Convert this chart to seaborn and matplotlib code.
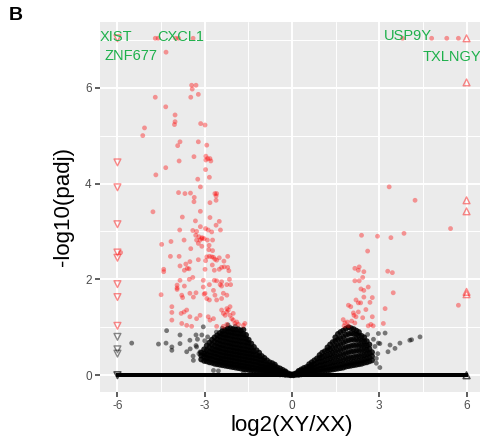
import numpy as np
import pandas as pd
import matplotlib
matplotlib.use("Agg")
import matplotlib.pyplot as plt
import seaborn as sns

# ---------------- data ----------------
# significant genes, left side (log2FC, -log10 padj)
red_left_x = [-4.7, -4.6, -4.0, -3.9, -3.4, -4.33, -3.45, -3.3, -3.43, -3.22, -4.7, -3.48, -4.34, -4.02,
              -4.02, -4.04, -3.14, -2.99, -5.07, -5.13, -3.85, -3.93, -3.22, -2.93, -3.37, -2.96, -2.9,
              -2.96, -2.82, -3.88, -2.79, -4.34, -4.68, -2.97, -3.24, -2.84, -3.15, -3.9, -3.68, -3.49,
              -3.36, -3.37, -2.65, -2.59, -2.61, -2.61, -2.82, -4.78, -3.15, -3.77, -2.82, -3.32, -2.5,
              -2.61, -3.15, -3.86, -3.41, -3.28, -2.97, -2.88, -2.76, -2.46, -3.31, -3.2, -3.09, -3.1,
              -3.02, -3.16, -3.28, -2.91, -2.73, -3.71, -4.16, -3.22, -4.48, -2.85, -3.1, -2.86, -3.48,
              -2.73, -5.89, -4.18, -3.88, -2.93, -2.84, -2.76, -2.7, -2.65, -2.59, -2.5, -2.34, -2.21,
              -2.97, -3.22, -3.65, -3.51, -2.74, -3.85, -4.41, -4.41, -3.7, -3.6, -3.54, -2.99, -2.67,
              -2.5, -2.42, -2.33, -2.21, -2.17, -3.41, -3.53, -3.85, -3.05, -2.67, -2.59, -2.42, -2.15,
              -3.95, -3.95, -3.95, -3.7, -2.84, -2.47, -2.42, -2.24, -2.11, -4.5, -3.79, -3.76, -3.02,
              -3.51, -3.39, -3.3, -3.05, -2.99, -2.93, -2.84, -2.7, -2.65, -2.59, -2.42, -2.36, -2.24,
              -4.13, -4.13, -4.13, -3.81, -3.71, -3.62, -3.79, -3.51, -3.28, -3.16, -3.62, -3.45, -2.88,
              -2.82, -2.7, -2.59, -2.36, -2.24, -2.42, -2.36, -2.3, -2.24, -2.19, -2.13, -2.07, -2.02,
              -1.96, -1.9, -1.84, -2.02, -2.13, -2.24, -1.67, -1.62]
red_left_y = [7.03, 7.03, 7.03, 7.03, 7.03, 6.74, 6.05, 6.05, 5.97, 5.86, 5.8, 5.8, 5.6, 5.43,
              5.29, 5.23, 5.25, 5.22, 5.16, 5.0, 4.87, 4.79, 4.87, 4.8, 4.56, 4.57, 4.52,
              4.49, 4.52, 4.47, 4.47, 4.33, 4.18, 4.29, 4.09, 4.13, 3.93, 3.81, 3.79, 3.8,
              3.71, 3.62, 3.79, 3.79, 3.74, 3.65, 3.6, 3.41, 3.42, 3.3, 3.29, 3.22, 3.21,
              3.13, 3.1, 3.03, 3.02, 3.0, 3.06, 3.03, 2.99, 3.03, 2.92, 2.89, 2.87, 2.85,
              2.85, 2.82, 2.82, 2.82, 2.82, 2.82, 2.79, 2.75, 2.73, 2.71, 2.69, 2.62, 2.64,
              2.6, 2.56, 2.48, 2.48, 2.47, 2.48, 2.47, 2.46, 2.42, 2.4, 2.45, 2.38, 2.48,
              2.39, 2.41, 2.32, 2.37, 2.3, 2.28, 2.21, 2.16, 2.19, 2.23, 2.22, 2.21, 2.19,
              2.21, 2.25, 2.26, 2.25, 2.18, 2.04, 2.0, 1.98, 1.98, 1.98, 1.97, 1.95, 2.0,
              1.88, 1.82, 1.79, 1.86, 1.89, 1.89, 1.86, 1.89, 1.89, 1.68, 1.67, 1.62, 1.69,
              1.71, 1.63, 1.72, 1.84, 1.71, 1.6, 1.57, 1.77, 1.67, 1.57, 1.6, 1.71, 1.67,
              1.43, 1.31, 1.15, 1.29, 1.32, 1.36, 1.08, 1.22, 1.18, 1.25, 1.04, 1.02, 1.22,
              1.15, 1.18, 1.02, 1.02, 1.06, 1.36, 1.29, 1.25, 1.32, 1.36, 1.25, 1.18, 1.15,
              1.08, 1.11, 1.06, 1.29, 1.43, 1.39, 1.04, 1.08]

# significant genes, right side
red_right_x = [3.8, 4.8, 5.32, 5.72, 3.34, 4.23, 5.45, 2.39, 2.94, 3.4, 3.85, 2.6, 2.16, 2.31, 2.28,
               2.47, 3.29, 3.45, 2.16, 2.31, 2.43, 2.37, 2.47, 2.62, 3.48, 5.72, 2.2, 2.28, 2.47,
               2.76, 1.94, 2.02, 2.36, 2.54, 2.68, 3.2, 2.11, 2.13, 2.28, 2.2, 1.76, 1.82, 1.9,
               1.94, 1.79, 2.05, 2.16, 2.43, 2.76, 2.62, 2.71, 2.79, 3.14]
red_right_y = [7.03, 7.03, 7.03, 7.03, 3.93, 3.65, 3.06, 2.92, 2.9, 2.87, 2.96, 2.59, 2.23, 2.26, 2.19,
               2.16, 2.17, 2.14, 1.97, 1.97, 2.04, 1.8, 1.77, 1.84, 1.72, 1.46, 1.57, 1.51, 1.63,
               1.62, 1.46, 1.43, 1.51, 1.37, 1.52, 1.39, 1.3, 1.25, 1.32, 1.22, 1.16, 1.09, 1.11,
               1.03, 1.03, 1.13, 1.09, 1.2, 1.22, 1.03, 1.06, 1.03, 1.08]

# values beyond the axis limit (drawn as triangles at +-6)
red_tri_left_y = [7.03, 4.44, 3.92, 3.15, 2.56, 2.45, 1.9, 1.63, 1.03]
black_tri_left_y = [0.8, 0.54, 0.45, 0.0, 0.0]
red_tri_right_y = [7.03, 6.11, 3.65, 3.42, 1.74, 1.69]
black_tri_right_y = [0.0, 0.0]

# non-significant genes: scattered ones
black_x = [-5.51, -4.59, -4.33, -4.31, -4.13, -4.13, -3.85, -3.85, -3.62, -3.51, -3.3, -3.39,
           -3.1, -3.05, -3.28, -3.16, -2.99, -2.7, -2.53, -1.67, -3.4, -3.2, -3.25, -3.0, -2.9,
           -2.6, -2.4, -2.2, -1.95, -3.5, -3.3,
           2.9, 2.95, 2.85, 3.02, 3.2, 3.3, 3.37, 3.54, 3.71, 4.05, 4.11, 4.4, 3.02, 2.8, 2.6,
           2.97, 2.97, 2.9]
black_y = [0.67, 0.65, 0.67, 0.93, 0.59, 0.52, 0.84, 0.66, 0.49, 0.73, 0.84, 0.31,
           0.84, 1.01, 0.59, 0.49, 0.42, 0.1, 0.09, 0.05, 0.4, 0.45, 0.75, 0.72, 0.8,
           0.9, 0.98, 1.05, 1.02, 0.55, 0.62,
           0.35, 0.45, 0.6, 0.66, 0.88, 0.49, 0.63, 0.56, 0.67, 0.73, 0.74, 0.8, 0.16, 0.75, 0.85,
           0.87, 0.67, 0.25]

# non-significant genes: dense cloud, listed column by column (log2FC, [-log10 padj ...])
cloud_left = [
    (-3.12, [0.33, 0.41, 0.47]),
    (-3.02, [0.30, 0.38, 0.45, 0.54]),
    (-2.93, [0.29, 0.36, 0.44, 0.52, 0.62]),
    (-2.84, [0.27, 0.35, 0.41, 0.49, 0.58, 0.68]),
    (-2.75, [0.26, 0.33, 0.40, 0.48, 0.55, 0.64, 0.74]),
    (-2.66, [0.24, 0.31, 0.39, 0.46, 0.53, 0.61, 0.70, 0.79]),
    (-2.57, [0.23, 0.30, 0.37, 0.44, 0.52, 0.59, 0.67, 0.75, 0.83]),
    (-2.48, [0.22, 0.29, 0.35, 0.43, 0.50, 0.57, 0.65, 0.73, 0.81, 0.88]),
    (-2.39, [0.21, 0.27, 0.34, 0.41, 0.48, 0.56, 0.63, 0.71, 0.79, 0.86, 0.92]),
    (-2.30, [0.20, 0.26, 0.33, 0.40, 0.47, 0.54, 0.62, 0.70, 0.78, 0.85, 0.94]),
    (-2.21, [0.19, 0.25, 0.32, 0.39, 0.46, 0.53, 0.61, 0.69, 0.77, 0.84, 0.91, 0.97]),
    (-2.12, [0.18, 0.24, 0.31, 0.38, 0.45, 0.52, 0.60, 0.67, 0.75, 0.83, 0.90, 0.98]),
    (-2.03, [0.17, 0.23, 0.30, 0.37, 0.44, 0.51, 0.58, 0.66, 0.74, 0.82, 0.89, 0.96]),
    (-1.94, [0.16, 0.22, 0.29, 0.36, 0.43, 0.50, 0.57, 0.65, 0.73, 0.81, 0.88, 0.95]),
    (-1.85, [0.15, 0.21, 0.28, 0.35, 0.42, 0.49, 0.56, 0.64, 0.72, 0.80, 0.87, 0.96]),
    (-1.76, [0.14, 0.20, 0.27, 0.34, 0.41, 0.48, 0.55, 0.63, 0.71, 0.79, 0.87, 0.93]),
    (-1.67, [0.13, 0.19, 0.26, 0.33, 0.40, 0.47, 0.54, 0.62, 0.70, 0.78, 0.86, 0.95]),
    (-1.58, [0.12, 0.18, 0.25, 0.32, 0.39, 0.46, 0.53, 0.61, 0.69, 0.77, 0.84]),
    (-1.49, [0.11, 0.17, 0.24, 0.31, 0.38, 0.45, 0.52, 0.60, 0.68, 0.74]),
    (-1.40, [0.10, 0.16, 0.23, 0.30, 0.37, 0.44, 0.51, 0.58, 0.66]),
    (-1.31, [0.09, 0.15, 0.22, 0.29, 0.36, 0.43, 0.50, 0.59]),
    (-1.22, [0.08, 0.14, 0.21, 0.28, 0.35, 0.42, 0.52]),
    (-1.13, [0.07, 0.13, 0.19, 0.26, 0.33, 0.40, 0.47]),
    (-1.04, [0.06, 0.12, 0.18, 0.25, 0.32, 0.40]),
    (-0.95, [0.06, 0.11, 0.17, 0.23, 0.30, 0.36]),
    (-0.86, [0.05, 0.10, 0.16, 0.22, 0.31]),
    (-0.77, [0.05, 0.09, 0.15, 0.21, 0.27]),
    (-0.68, [0.04, 0.08, 0.13, 0.19, 0.25]),
    (-0.59, [0.03, 0.07, 0.12, 0.18, 0.22]),
    (-0.50, [0.03, 0.06, 0.11, 0.16]),
    (-0.41, [0.02, 0.05, 0.09, 0.14]),
    (-0.32, [0.02, 0.04, 0.07, 0.11]),
    (-0.23, [0.01, 0.03, 0.06, 0.08]),
    (-0.14, [0.01, 0.02, 0.04]),
    (-0.05, [0.00, 0.01, 0.02]),
]
cloud_right = [
    (0.05, [0.00, 0.01, 0.02]),
    (0.14, [0.01, 0.03, 0.04]),
    (0.23, [0.01, 0.04, 0.07, 0.09]),
    (0.32, [0.02, 0.05, 0.09, 0.12]),
    (0.41, [0.03, 0.06, 0.10, 0.15]),
    (0.50, [0.03, 0.07, 0.12, 0.17]),
    (0.59, [0.04, 0.08, 0.13, 0.18, 0.23]),
    (0.68, [0.05, 0.09, 0.15, 0.21, 0.27]),
    (0.77, [0.05, 0.10, 0.16, 0.23, 0.31]),
    (0.86, [0.06, 0.11, 0.18, 0.26, 0.35]),
    (0.95, [0.07, 0.13, 0.20, 0.28, 0.36, 0.42]),
    (1.04, [0.08, 0.14, 0.21, 0.29, 0.38, 0.47]),
    (1.13, [0.09, 0.15, 0.23, 0.31, 0.40, 0.50]),
    (1.22, [0.10, 0.16, 0.24, 0.33, 0.42, 0.52, 0.58]),
    (1.31, [0.11, 0.17, 0.26, 0.35, 0.44, 0.54, 0.64]),
    (1.40, [0.12, 0.19, 0.27, 0.37, 0.47, 0.57, 0.69]),
    (1.49, [0.13, 0.20, 0.29, 0.39, 0.49, 0.60, 0.71, 0.79]),
    (1.58, [0.14, 0.21, 0.30, 0.40, 0.51, 0.62, 0.74, 0.86]),
    (1.67, [0.15, 0.22, 0.31, 0.42, 0.53, 0.65, 0.77, 0.90]),
    (1.76, [0.16, 0.23, 0.33, 0.44, 0.56, 0.68, 0.80, 0.93]),
    (1.85, [0.18, 0.25, 0.35, 0.46, 0.58, 0.71, 0.84, 0.97]),
    (1.94, [0.19, 0.26, 0.36, 0.48, 0.60, 0.73, 0.86, 1.00]),
    (2.03, [0.20, 0.27, 0.37, 0.49, 0.61, 0.74, 0.87, 0.98]),
    (2.12, [0.21, 0.28, 0.38, 0.50, 0.62, 0.74, 0.86, 0.96]),
    (2.21, [0.22, 0.29, 0.39, 0.51, 0.63, 0.75, 0.85, 0.93]),
    (2.30, [0.23, 0.30, 0.40, 0.51, 0.62, 0.73, 0.83, 0.90]),
    (2.39, [0.24, 0.31, 0.41, 0.52, 0.62, 0.72, 0.82]),
    (2.48, [0.26, 0.33, 0.42, 0.52, 0.62, 0.71, 0.79]),
    (2.57, [0.27, 0.35, 0.44, 0.53, 0.62, 0.71]),
    (2.66, [0.29, 0.37, 0.46, 0.55, 0.64]),
    (2.75, [0.31, 0.40, 0.48]),
]

# genes with padj = 1 (-log10 = 0) across the whole range
zero_x = [-6.0, -5.9, -5.81, -5.7, -5.62, -5.5, -5.41, -5.3, -5.2, -5.11, -5.0, -4.9, -4.82, -4.7,
          -4.61, -4.5, -4.4, -4.31, -4.2, -4.1, -4.0, -3.9, -3.81, -3.7, -3.6, -3.52, -3.4, -3.3,
          -3.21, -3.1, -3.0, -2.9, -2.8, -2.72, -2.6, -2.5, -2.41, -2.3, -2.2, -2.1, -2.0, -1.9,
          -1.8, -1.7, -1.6, -1.5, -1.4, -1.3, -1.2, -1.1, -1.0, -0.9, -0.8, -0.7, -0.6, -0.5,
          -0.4, -0.3, -0.2, -0.1, 0.0, 0.1, 0.2, 0.3, 0.4, 0.5, 0.6, 0.7, 0.8, 0.9, 1.0, 1.1,
          1.2, 1.3, 1.4, 1.5, 1.6, 1.7, 1.8, 1.9, 2.0, 2.1, 2.2, 2.3, 2.41, 2.5, 2.6, 2.72, 2.8,
          2.9, 3.0, 3.1, 3.21, 3.3, 3.4, 3.52, 3.6, 3.7, 3.81, 3.9, 4.0, 4.1, 4.2, 4.31, 4.4,
          4.5, 4.61, 4.7, 4.82, 4.9, 5.0, 5.11, 5.2, 5.3, 5.41, 5.5, 5.62, 5.7, 5.81, 5.9, 6.0]

gene_labels = ["XIST", "CXCL1", "ZNF677", "USP9Y", "TXLNGY"]

x_ticks = [-6, -3, 0, 3, 6]
y_ticks = [0, 2, 4, 6]
x_title = "log2(XY/XX)"
y_title = "-log10(padj)"
panel_tag = "B"

# ---------------- build tables ----------------
cloud_pts = [(cx, cy) for cx, ys in cloud_left + cloud_right for cy in ys]
df_scatter = pd.DataFrame({"x": black_x, "y": black_y})
df_cloud = pd.DataFrame({"x": [p[0] for p in cloud_pts], "y": [p[1] for p in cloud_pts]})
df_zero = pd.DataFrame({"x": zero_x, "y": [0.0] * len(zero_x)})
df_red = pd.DataFrame({"x": red_left_x + red_right_x, "y": red_left_y + red_right_y})
df_tri_l = pd.DataFrame({"x": [-6.0] * len(red_tri_left_y), "y": red_tri_left_y})
df_tri_lb = pd.DataFrame({"x": [-6.0] * len(black_tri_left_y), "y": black_tri_left_y})
df_tri_r = pd.DataFrame({"x": [6.0] * len(red_tri_right_y), "y": red_tri_right_y})
df_tri_rb = pd.DataFrame({"x": [6.0] * len(black_tri_right_y), "y": black_tri_right_y})

# ---------------- draw ----------------
sns.set_theme(style="white")
plt.rcParams["font.family"] = ["Liberation Sans", "DejaVu Sans"]

fig = plt.figure(figsize=(4.81, 4.41), dpi=100)
ax = fig.add_axes([100 / 481, 49 / 441, 384 / 481, 370.5 / 441])
ax.set_facecolor("#EBEBEB")

sns.scatterplot(data=df_scatter, x="x", y="y", ax=ax, color="black", alpha=0.5,
                s=12, edgecolor="none", linewidth=0, legend=False, zorder=3)
sns.scatterplot(data=df_cloud, x="x", y="y", ax=ax, color="black", alpha=0.85,
                s=18, edgecolor="none", linewidth=0, legend=False, zorder=3)
sns.scatterplot(data=df_zero, x="x", y="y", ax=ax, color="black", alpha=1.0,
                s=7, marker="s", edgecolor="none", linewidth=0, legend=False, zorder=3)
sns.scatterplot(data=df_red, x="x", y="y", ax=ax, color="red", alpha=0.38,
                s=12, edgecolor="none", linewidth=0, legend=False, zorder=4)
for d, mk, col in [(df_tri_l, "v", "red"), (df_tri_r, "^", "red"),
                   (df_tri_lb, "v", "black"), (df_tri_rb, "^", "black")]:
    sns.scatterplot(data=d, x="x", y="y", ax=ax, marker=mk, s=24, facecolors="none",
                    edgecolors=col, linewidth=1.0, alpha=0.45, legend=False, zorder=4)

ax.set_xlim(-6.6, 6.6)
ax.set_ylim(-0.35, 7.38)
ax.set_xticks(x_ticks)
ax.set_xticklabels([str(t) for t in x_ticks])
ax.set_yticks(y_ticks)
ax.set_yticklabels([str(t) for t in y_ticks])
ax.set_xticks([-4.5, -1.5, 1.5, 4.5], minor=True)
ax.set_yticks([1, 3, 5, 7], minor=True)
ax.grid(which="major", color="white", linewidth=1.4, zorder=0)
ax.grid(which="minor", color="white", linewidth=0.7, zorder=0)
ax.set_axisbelow(True)
for sp in ax.spines.values():
    sp.set_visible(False)
ax.tick_params(which="major", length=3.5, width=1.1, color="#333333",
               labelcolor="#4D4D4D", labelsize=8.5, pad=2.5,
               bottom=True, left=True)
ax.tick_params(which="minor", length=0)

ax.set_xlabel(x_title, fontsize=16, color="black", labelpad=2)
ax.set_ylabel(y_title, fontsize=16, color="black", labelpad=8)

label_pos = [(-6.6, 7.06), (-4.64, 7.06), (-6.46, 6.67), (3.16, 7.08), (4.49, 6.63)]
for lab, (lx, ly) in zip(gene_labels, label_pos):
    ax.text(lx, ly, lab, color="#1DB04B", fontsize=10.5, ha="left", va="center", zorder=6)

fig.text(9 / 481, 1 - 7 / 441, panel_tag, fontsize=14, fontweight="bold",
         ha="left", va="top", color="black")

fig.savefig("out.png", dpi=100)
